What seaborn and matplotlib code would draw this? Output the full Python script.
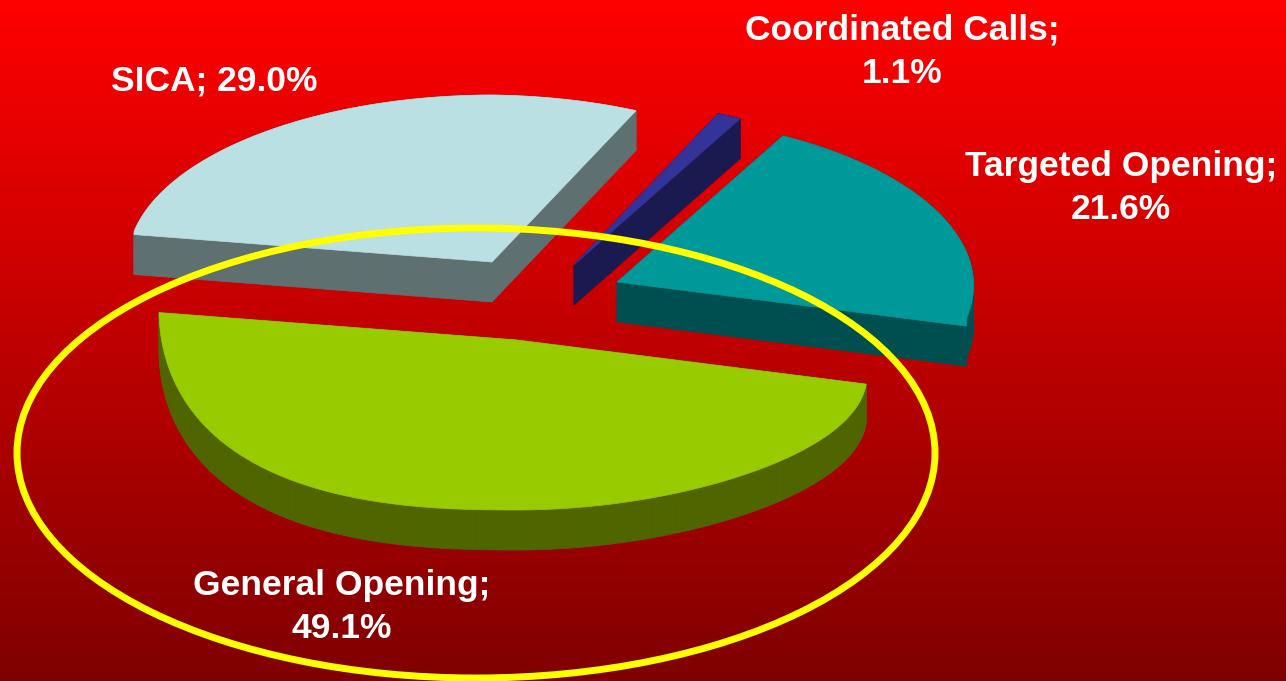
import numpy as np
import matplotlib.pyplot as plt
import seaborn as sns
from matplotlib.patches import Ellipse, Polygon

# Valores (ordem horaria a partir da direita)
labels = ["General Opening", "SICA", "Coordinated Calls", "Targeted Opening"]
values = [49.1, 29.0, 1.1, 21.6]
label_text = ["General Opening;\n49.1%", "SICA; 29.0%", "Coordinated Calls;\n1.1%", "Targeted Opening;\n21.6%"]

# Layout em pixels da figura
apex_x = [517, 492, 574, 617]
apex_y = [340, 262, 265, 282]
label_x = [342, 214, 902, 1121]
label_y = [607, 81, 52, 188]
top_colors = sns.color_palette(["#99cc00", "#bbe0e3", "#333399", "#009999"])
side_colors = sns.color_palette(["#4f6600", "#5f7071", "#1a1a50", "#004f50"])

start_angle = 3.9
rx_left, rx_right = 358, 350
ry = 170
depth = 40
shear_left, shear_right = 0.085, 0.1
x_skew = 68

sns.set_style("white")
plt.rcParams['font.family'] = ['Liberation Sans', 'DejaVu Sans']

fig = plt.figure(figsize=(12.86, 6.81), dpi=100)
ax = fig.add_axes([0, 0, 1, 1])
ax.set_xlim(0, 1286)
ax.set_ylim(681, 0)
ax.axis('off')

# Fundo em degrade vermelho
grad = np.linspace(0, 1, 256).reshape(-1, 1)
colors_top = np.array([1.0, 0.0, 0.0])
colors_bot = np.array([0.5, 0.0, 0.0])
img = colors_top + (colors_bot - colors_top) * grad[..., None]
ax.imshow(img, extent=[0, 1286, 681, 0], aspect='auto', zorder=0)


def projetar(theta):
    # Circulo visto em perspectiva: a metade de tras inclina para a direita
    # e a frente esquerda fica mais cheia, como no grafico 3D original
    s = np.sin(theta)
    c = np.cos(theta)
    front_left = (c < 0) & (s > 0)
    c_shape = np.where(front_left, -np.abs(c) ** 0.8, c)
    x = np.where(c < 0, rx_left, rx_right) * c_shape - x_skew * np.minimum(s, 0)
    shear = np.where(x < 0, shear_left, shear_right)
    fade = np.where(s > 0, (1 - s) ** np.where(x < 0, 2, 1), 1.0)
    y = ry * s + shear * x * fade
    return x, y


fracs = np.array(values) / np.sum(values) * 360
start = start_angle
for i in range(len(values)):
    end = start + fracs[i]
    th = np.radians(np.linspace(start, end, 120))
    px, py = projetar(th)
    px = np.concatenate([[0], px]) + apex_x[i]
    py = np.concatenate([[0], py]) + apex_y[i]

    # Lateral: cada aresta varrida para baixo, depois o topo por cima
    n = len(px)
    for j in range(n):
        k = (j + 1) % n
        quad = [(px[j], py[j]), (px[k], py[k]), (px[k], py[k] + depth), (px[j], py[j] + depth)]
        ax.add_patch(Polygon(quad, closed=True, facecolor=side_colors[i], edgecolor=side_colors[i], lw=0.5, zorder=2))
    ax.add_patch(Polygon(np.column_stack([px, py]), closed=True, facecolor=top_colors[i],
                         edgecolor=top_colors[i], lw=0.5, zorder=3))
    start = end

# Destaque amarelo
ax.add_patch(Ellipse((476, 453), 918, 450, fill=False, edgecolor="#ffff00", lw=5, zorder=4))

for i in range(len(values)):
    ax.text(label_x[i], label_y[i], label_text[i], color='white', fontsize=25.5, fontweight='bold',
            ha='center', va='center', linespacing=1.41, zorder=5)

plt.savefig("out.png", dpi=100)
plt.close()
